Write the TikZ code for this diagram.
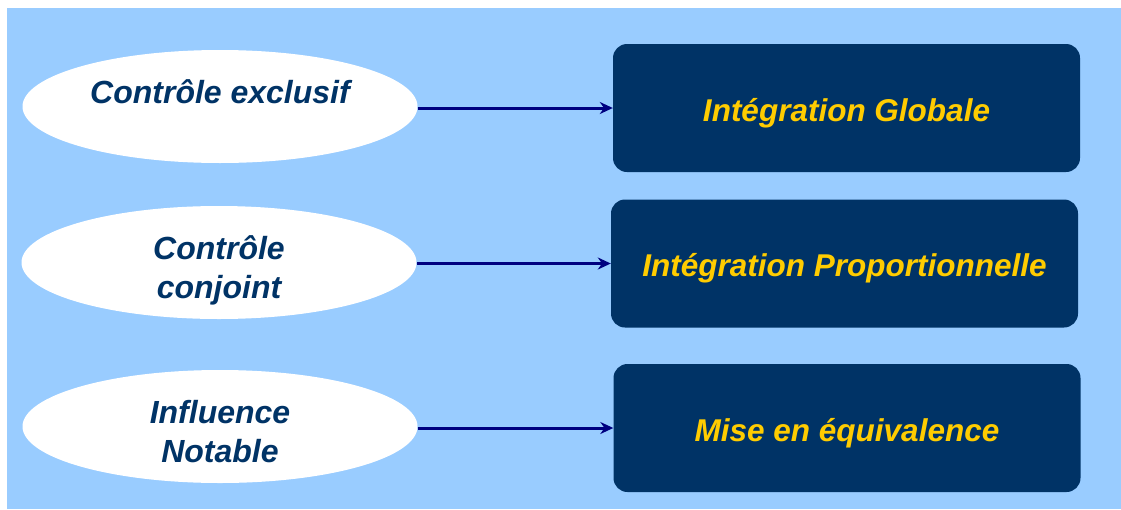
\documentclass[tikz,border=0pt]{standalone}
\usepackage{fontspec}
\setmainfont{Liberation Sans}
\usepackage{tikz}
\usetikzlibrary{shapes.geometric, arrows.meta}
\definecolor{skyback}{HTML}{99CCFF}
\definecolor{navybox}{HTML}{003366}
\definecolor{goldtext}{HTML}{FFCC00}
\definecolor{arrownavy}{HTML}{000080}
\tikzstyle{oval} = [ellipse, minimum width=395pt, minimum height=113pt, inner sep=0pt, fill=white, text=navybox, align=center, text height=72pt, text depth=0pt, font=\fontsize{32}{39}\selectfont\bfseries\itshape]
\tikzstyle{result} = [rectangle, rounded corners=14pt, minimum width=467pt, minimum height=128pt, fill=navybox, text=goldtext, text height=26pt, text depth=0pt, font=\fontsize{31.5}{38}\selectfont\bfseries\itshape]
\tikzstyle{arrow} = [line width=3pt, draw=arrownavy, fill=arrownavy, -{Stealth[length=13pt,width=12pt]}]

\begin{document}
\begin{tikzpicture}[x=1pt, y=1pt, node distance=160pt]
        \useasboundingbox (0,0) rectangle (1121,-509);
        \fill [skyback] (7,-8) rectangle (1121,-509);

        \node (excl) [oval] at (220,-106.5) {Contrôle exclusif\\~};
        \node (conj) [oval, below of=excl, yshift=4pt, xshift=-1pt] {Contrôle\\conjoint};
        \node (infl) [oval, below of=conj, yshift=-4pt, xshift=1pt] {Influence\\Notable};
        \node (glob) [result, right of=excl, xshift=466.5pt, yshift=-1.5pt] {Intégration Globale};
        \node (prop) [result, right of=conj, xshift=465.5pt, yshift=-1pt] {Intégration Proportionnelle};
        \node (equiv) [result, right of=infl, xshift=467pt, yshift=-1.5pt] {Mise en équivalence};

        \draw [arrow] (excl.east |- glob) -- (glob);
        \draw [arrow] (conj.east |- prop) -- (prop);
        \draw [arrow] (infl.east |- equiv) -- (equiv);
    \end{tikzpicture}
\end{document}
